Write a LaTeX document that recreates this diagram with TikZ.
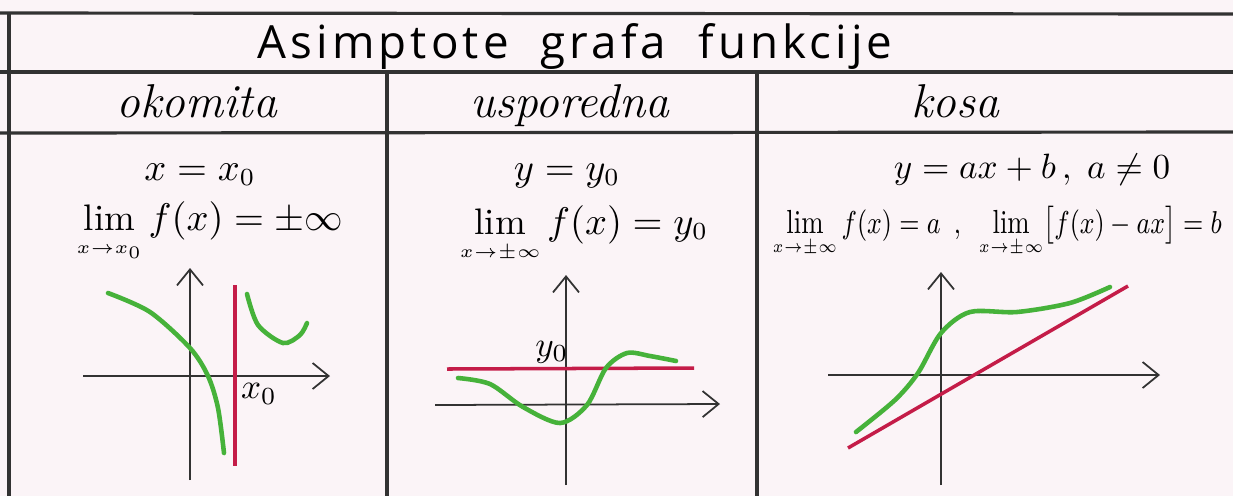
\documentclass[tikz,border=0pt]{standalone}
\usepackage{fontspec}
\usepackage{amsmath,graphicx}
\usetikzlibrary{arrows.meta}
\newfontfamily\titlefont{Open Sans}[LetterSpace=9]
\definecolor{paper}{RGB}{251,244,247}
\definecolor{pencil}{RGB}{50,50,50}
\definecolor{cgreen}{RGB}{70,178,58}
\definecolor{cred}{RGB}{196,28,72}
% lim with a small subscript, as written under it by hand
\newcommand{\limunder}[1]{\lim\limits_{\scriptscriptstyle #1}}

\begin{document}
\begin{tikzpicture}[x=0.01cm,y=-0.01cm,
  rule/.style={pencil,line width=0.9pt},
  axis/.style={-{Straight Barb[length=1.6mm,width=2.6mm]},pencil,line width=0.5pt},
  curve/.style={cgreen,line width=1.3pt,line cap=round},
  asym/.style={cred,line width=1.0pt},
  head/.style={font=\fontsize{13.5}{16}\selectfont\itshape,anchor=base},
  eqn/.style={font=\fontsize{10.5}{12}\selectfont,anchor=base},
  tick/.style={font=\normalsize}]

% ---- paper and frame -----------------------------------------------------
\fill[paper] (0,0) rectangle (1233,496);
\useasboundingbox (0,0) rectangle (1233,496);
\coordinate (tl) at (0,13);   \coordinate (tr) at (1233,14);
\coordinate (ml) at (0,72);   \coordinate (mr) at (1233,72);
\coordinate (hl) at (0,133);  \coordinate (hr) at (1233,132);
\draw[rule] (tl) -- (tr);
\draw[rule] (ml) -- (mr);
\draw[rule] (hl) -- (hr);
\draw[rule] (9,13) -- (9,496);
\draw[rule] (387,72) -- (387,496);
\draw[rule] (757,72) -- (757,496);

% ---- title and the three headers -----------------------------------------
\node[anchor=base] (title) at (575,58) {\titlefont\fontsize{13}{16}\selectfont Asimptote\ \ grafa\ \ funkcije};
\node[head] (hok) at (197,117) {okomita};
\node[head] (hus) at (570,117) {usporedna};
\node[head] (hko) at (955,117) {kosa};

% ---- okomita -------------------------------------------------------------
\node[eqn] (eq1)  at (200,180) {$x = x_0$};
\node[eqn] (lim1) at (210,230) {$\limunder{x\to x_0} f(x) = \pm\infty$};
\coordinate (a1w) at (83,376);  \coordinate (a1e) at (330,376);
\coordinate (a1s) at (190,480); \coordinate (a1n) at (190,268);
\draw[axis] (a1w) -- (a1e);
\draw[axis] (a1s) -- (a1n);
\draw[asym] (235,285) -- (235,466);
\draw[curve] plot[smooth] coordinates {(108,293) (150,312) (190,348) (208,376) (218,408) (224,453)};
\draw[curve] plot[smooth] coordinates {(247,294) (258,325) (283,343) (300,335) (307,323)};
\node[tick] (x0) at (259,394) {$x_0$};

% ---- usporedna -----------------------------------------------------------
\node[eqn] (eq2)  at (567,180) {$y = y_0$};
\node[eqn] (lim2) at (584,234) {$\limunder{x\to\pm\infty} f(x) = y_0$};
\coordinate (a2w) at (435,405); \coordinate (a2e) at (720,404);
\coordinate (a2s) at (566,485); \coordinate (a2n) at (566,275);
\draw[axis] (a2w) -- (a2e);
\draw[axis] (a2s) -- (a2n);
\draw[asym] (447,369) -- (694,368);
\draw[curve] plot[smooth] coordinates {(458,378) (490,384) (523,407) (560,423) (587,405) (606,368) (627,353) (650,356) (676,361)};
\node[tick] (y0) at (552,352) {$y_0$};

% ---- kosa ----------------------------------------------------------------
\node[eqn,font=\fontsize{10}{12}\selectfont,inner sep=1pt] (eq3) at (1032,178) {$y = ax + b\,,\; a \neq 0$};
\node[eqn,font=\fontsize{9.5}{11}\selectfont,anchor=base west,inner sep=0pt] (lim3) at (772,233)
  {\scalebox{0.8}[1]{$\limunder{x\to\pm\infty} f(x) = a\enspace,\enspace \limunder{x\to\pm\infty}\bigl[f(x)-ax\bigr] = b$}};
\coordinate (a3w) at (828,375); \coordinate (a3e) at (1160,375);
\coordinate (a3s) at (941,485); \coordinate (a3n) at (941,272);
\draw[axis] (a3w) -- (a3e);
\draw[axis] (a3s) -- (a3n);
\draw[asym] (848,448) -- (1128,286);
\draw[curve] plot[smooth] coordinates {(856,432) (895,400) (918,373) (941,333) (970,312) (1017,312) (1070,303) (1110,287)};
\end{tikzpicture}
\end{document}
